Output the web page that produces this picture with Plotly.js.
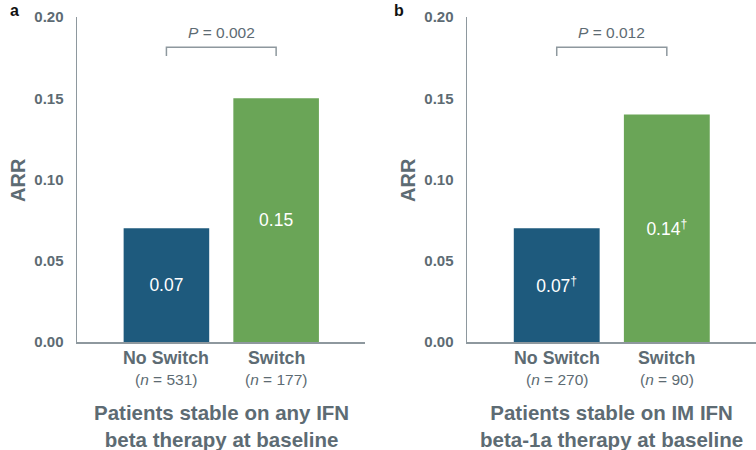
<!DOCTYPE html>
<html><head><meta charset="utf-8">
<script src="https://cdn.plot.ly/plotly-3.0.1.min.js"></script>
<style>html,body{margin:0;padding:0;background:#fff}#c{width:756px;height:450px}</style>
</head><body><div id="c"></div>
<script>
const categories = ["No Switch", "Switch"];
const arrA = [0.07, 0.15];
const arrB = [0.07, 0.14];
const labelsA = ["0.07", "0.15"];
const labelsB = ["0.07<sup>†</sup>", "0.14<sup>†</sup>"];
const nA = ["531", "177"];
const nB = ["270", "90"];
const pA = "0.002";
const pB = "0.012";
const titleA = "Patients stable on any IFN<br>beta therapy at baseline";
const titleB = "Patients stable on IM IFN<br>beta-1a therapy at baseline";
const yTicks = [0, 0.05, 0.10, 0.15, 0.20];
const yTickText = ["0.00", "0.05", "0.10", "0.15", "0.20"];
const colors = ["#1e5a7d", "#6aa557"];
const gray = "#5d6b73";
const font = "Liberation Sans, Arial, sans-serif";

const xpos = [0, 1];
function barTrace(vals, labels, xa, ya) {
  return {
    type: "bar", x: xpos, y: vals, xaxis: xa, yaxis: ya,
    width: 0.78,
    marker: {color: colors, line: {width: 0}},
    text: labels, textposition: "inside", insidetextanchor: "middle",
    textangle: 0,
    textfont: {color: "#ffffff", size: 17.5, family: font},
    hoverinfo: "none", showlegend: false
  };
}
const data = [barTrace(arrA, labelsA, "x", "y"), barTrace(arrB, labelsB, "x2", "y2")];

function yax(anchor) {
  return {
    domain: [0.24, 0.962], range: [0, 0.2], anchor: anchor,
    tickvals: yTicks, ticktext: yTickText, ticks: "",
    showgrid: false, zeroline: false,
    showline: true, linecolor: "#8e989e", linewidth: 1.5,
    tickfont: {family: font, size: 15, color: gray, weight: "bold"},
    ticklabelstandoff: 9
  };
}
function xax(domain, anchor) {
  return {
    domain: domain, range: [-0.815, 1.81], anchor: anchor,
    showticklabels: false, ticks: "", showgrid: false, zeroline: false,
    showline: true, linecolor: "#8e989e", linewidth: 1.5
  };
}

const ann = [];
const shapes = [];
function panel(xa, ya, xref, letter, letterX, arrX, ns, p, title, vals) {
  categories.forEach((c, i) => {
    ann.push({xref: xref, yref: "paper", x: xpos[i], y: (450 - 358) / 450, text: "<b>" + c + "</b>",
      showarrow: false, font: {family: font, size: 17.8, color: gray}, yanchor: "middle"});
    ann.push({xref: xref, yref: "paper", x: xpos[i], y: (450 - 379) / 450, text: "(<i>n</i> = " + ns[i] + ")",
      showarrow: false, font: {family: font, size: 15.5, color: gray}, yanchor: "middle"});
  });
  ann.push({xref: xref, yref: "paper", x: 0.5, y: (450 - 426) / 450, text: "<b>" + title + "</b>",
    showarrow: false, font: {family: font, size: 20.5, color: gray}, yanchor: "middle"});
  ann.push({xref: "paper", yref: "paper", x: letterX / 756, y: (450 - 10) / 450, text: "<b>" + letter + "</b>",
    showarrow: false, font: {family: font, size: 16, color: "#111"}, xanchor: "center", yanchor: "middle"});
  ann.push({xref: "paper", yref: "paper", x: arrX / 756, y: (450 - 180) / 450, text: "<b>ARR</b>", textangle: -90,
    showarrow: false, font: {family: font, size: 20, color: gray}, xanchor: "center", yanchor: "middle"});
  ann.push({xref: xref, yref: ya, x: 0.5, y: 0.1905, text: "<i>P</i> = " + p,
    showarrow: false, font: {family: font, size: 15.5, color: gray}, yanchor: "middle"});
  shapes.push({type: "path", xref: xref, yref: ya,
    path: "M " + xpos[0] + " 0.1760 L " + xpos[0] + " 0.1815 L " + xpos[1] + " 0.1815 L " + xpos[1] + " 0.1760",
    line: {color: "#8e989e", width: 1.5}});
}
panel("x", "y", "x", "a", 14, 18, nA, pA, titleA, arrA);
panel("x2", "y2", "x2", "b", 399, 408, nB, pB, titleB, arrB);

const layout = {
  width: 756, height: 450,
  margin: {l: 0, r: 0, t: 0, b: 0},
  paper_bgcolor: "#ffffff", plot_bgcolor: "#ffffff",
  font: {family: font, color: gray},
  bargap: 0.2,
  xaxis: xax([77 / 756, 365 / 756], "y"),
  yaxis: yax("x"),
  xaxis2: xax([467 / 756, 1.0], "y2"),
  yaxis2: yax("x2"),
  annotations: ann, shapes: shapes
};
Plotly.newPlot("c", data, layout, {displayModeBar: false, staticPlot: true});
</script></body></html>
